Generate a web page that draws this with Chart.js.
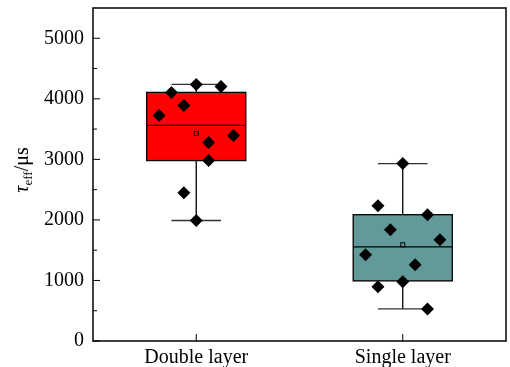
<!DOCTYPE html>
<html>
<head>
<meta charset="utf-8">
<script src="https://cdn.jsdelivr.net/npm/chart.js@4/dist/chart.umd.min.js"></script>
<style>
  html, body { margin: 0; padding: 0; background: #fff; }
  #wrap { width: 510px; height: 367px; }
</style>
</head>
<body>
<div id="wrap"><canvas id="c" width="510" height="367"></canvas></div>
<script>
// categories and box statistics
const categories = ['Double layer', 'Single layer'];
const boxColors = ['#ff0000', '#629a9a'];
const boxMin    = [1990, 530];
const boxQ1     = [2980, 993];
const boxMedian = [3560, 1556];
const boxQ3     = [4106, 2086];
const boxMax    = [4238, 2930];
const boxMean   = [3430, 1590];

// raw points, with their horizontal spread inside each category
const doubleValues = [3725, 4106, 3890, 4238, 4205, 3278, 2980, 3394, 2450, 1990];
const doubleSpread = [-0.18, -0.12, -0.06, 0, 0.12, 0.06, 0.06, 0.18, -0.06, 0];
const singleValues = [2930, 2235, 2086, 1838, 1672, 1424, 1258, 977, 894, 530];
const singleSpread = [0, -0.12, 0.12, -0.06, 0.18, -0.18, 0.06, 0, -0.12, 0.12];

const yTicks = [0, 1000, 2000, 3000, 4000, 5000];

const FONT = '"Liberation Serif", "DejaVu Serif", serif';
const BOX_HALF = 0.24;   // in x units
const CAP_HALF = 0.12;

const toPoints = (vals, spread, cat) => vals.map((v, i) => ({ x: cat + spread[i], y: v }));

// boxes, whiskers, median and mean drawn through the chart scales
const boxPlugin = {
  id: 'boxes',
  beforeDatasetsDraw(chart) {
    const { ctx } = chart;
    const xs = chart.scales.x, ys = chart.scales.y;
    ctx.save();
    categories.forEach((c, i) => {
      const cx = xs.getPixelForValue(i + 1);
      const l = xs.getPixelForValue(i + 1 - BOX_HALF);
      const r = xs.getPixelForValue(i + 1 + BOX_HALF);
      const cl = xs.getPixelForValue(i + 1 - CAP_HALF);
      const cr = xs.getPixelForValue(i + 1 + CAP_HALF);
      const yq1 = ys.getPixelForValue(boxQ1[i]);
      const yq3 = ys.getPixelForValue(boxQ3[i]);
      const ymed = ys.getPixelForValue(boxMedian[i]);
      const ymin = ys.getPixelForValue(boxMin[i]);
      const ymax = ys.getPixelForValue(boxMax[i]);

      // whiskers
      ctx.strokeStyle = '#000';
      ctx.lineWidth = 1.3;
      ctx.beginPath();
      ctx.moveTo(cx, yq3); ctx.lineTo(cx, ymax);
      ctx.moveTo(cx, yq1); ctx.lineTo(cx, ymin);
      ctx.stroke();
      ctx.strokeStyle = '#333';
      ctx.beginPath();
      ctx.moveTo(cl, ymax); ctx.lineTo(cr, ymax);
      ctx.moveTo(cl, ymin); ctx.lineTo(cr, ymin);
      ctx.stroke();

      // box
      ctx.fillStyle = boxColors[i];
      ctx.fillRect(l, yq3, r - l, yq1 - yq3);
      ctx.strokeStyle = '#000';
      ctx.lineWidth = 1.3;
      ctx.strokeRect(l, yq3, r - l, yq1 - yq3);
      ctx.beginPath();
      ctx.moveTo(l, ymed); ctx.lineTo(r, ymed);
      ctx.stroke();

      // mean
      const ym = ys.getPixelForValue(boxMean[i]);
      ctx.lineWidth = 1;
      ctx.strokeRect(cx - 2, ym - 2, 4, 4);
    });
    ctx.restore();
  },
  afterDraw(chart) {
    const { ctx, chartArea: a } = chart;
    const xs = chart.scales.x, ys = chart.scales.y;
    ctx.save();
    // frame
    ctx.strokeStyle = '#111';
    ctx.lineWidth = 1.6;
    ctx.strokeRect(a.left, a.top, a.right - a.left, a.bottom - a.top);
    // inward ticks
    ctx.lineWidth = 1;
    ctx.strokeStyle = '#000';
    ctx.beginPath();
    for (let v = 0; v < ys.max; v += 500) {
      const y = ys.getPixelForValue(v);
      const len = v % 1000 === 0 ? 7 : 4;
      ctx.moveTo(a.left, y); ctx.lineTo(a.left + len, y);
    }
    categories.forEach((c, i) => {
      const x = xs.getPixelForValue(i + 1);
      ctx.moveTo(x, a.bottom); ctx.lineTo(x, a.bottom - 7);
    });
    ctx.stroke();

    // y title: tau_eff / mu s
    ctx.translate(22, 170);
    ctx.rotate(-Math.PI / 2);
    ctx.fillStyle = '#000';
    ctx.textBaseline = 'alphabetic';
    const parts = [
      { t: 'τ', f: 'italic 20px ' + FONT, dy: 0 },
      { t: 'eff', f: '13px ' + FONT, dy: 4 },
      { t: '/μs', f: '20px ' + FONT, dy: 0 }
    ];
    let total = 0;
    parts.forEach(p => { ctx.font = p.f; p.w = ctx.measureText(p.t).width; total += p.w; });
    let x = -total / 2;
    parts.forEach(p => {
      ctx.font = p.f;
      ctx.fillText(p.t, x, 6 + p.dy);
      x += p.w;
    });
    ctx.restore();
  }
};

new Chart(document.getElementById('c'), {
  type: 'scatter',
  data: {
    datasets: [
      {
        label: categories[0],
        data: toPoints(doubleValues, doubleSpread, 1),
        pointStyle: 'rectRot',
        pointRadius: 6.5,
        backgroundColor: '#000',
        borderColor: '#000',
        borderWidth: 0
      },
      {
        label: categories[1],
        data: toPoints(singleValues, singleSpread, 2),
        pointStyle: 'rectRot',
        pointRadius: 6.5,
        backgroundColor: '#000',
        borderColor: '#000',
        borderWidth: 0
      }
    ]
  },
  options: {
    responsive: false,
    animation: false,
    layout: { autoPadding: false, padding: { top: 8, right: 4, left: 0, bottom: 0 } },
    plugins: {
      legend: { display: false },
      tooltip: { enabled: false }
    },
    scales: {
      x: {
        type: 'linear',
        min: 0.5,
        max: 2.5,
        afterBuildTicks: s => { s.ticks = categories.map((c, i) => ({ value: i + 1 })); },
        afterFit: s => { s.height = 26; s.paddingLeft = 0; s.paddingRight = 0; },
        grid: { display: false, drawTicks: false },
        border: { display: false },
        ticks: {
          callback: v => categories[v - 1] || '',
          color: '#000',
          padding: 5,
          maxRotation: 0,
          font: { family: FONT, size: 20 }
        }
      },
      y: {
        min: 0,
        max: 5500,
        afterBuildTicks: s => { s.ticks = yTicks.map(v => ({ value: v })); },
        afterFit: s => { s.width = 93; s.paddingTop = 0; s.paddingBottom = 0; },
        grid: { display: false, drawTicks: false },
        border: { display: false },
        ticks: {
          callback: v => String(v),
          color: '#000',
          padding: 9,
          font: { family: FONT, size: 20 }
        }
      }
    }
  },
  plugins: [boxPlugin]
});
</script>
</body>
</html>
